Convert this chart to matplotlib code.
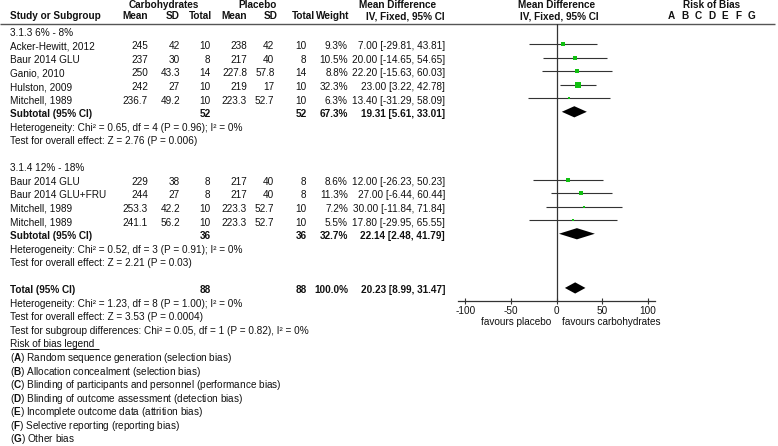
import matplotlib
matplotlib.use("Agg")
import matplotlib.pyplot as plt

plt.rcParams['font.family'] = ['Liberation Sans', 'DejaVu Sans']
plt.rcParams['font.size'] = 7.2
plt.rcParams['axes.unicode_minus'] = False
plt.rcParams['mathtext.fontset'] = 'custom'
plt.rcParams['mathtext.rm'] = 'Liberation Sans'
plt.rcParams['mathtext.bf'] = 'Liberation Sans:bold'

# subgroup 3.1.3 6% - 8%
names_1 = ["Acker-Hewitt, 2012", "Baur 2014 GLU", "Ganio, 2010", "Hulston, 2009", "Mitchell, 1989"]
carb_mean_1 = [245, 237, 250, 242, 236.7]
carb_sd_1 = [42, 30, 43.3, 27, 49.2]
carb_n_1 = [10, 8, 14, 10, 10]
plac_mean_1 = [238, 217, 227.8, 219, 223.3]
plac_sd_1 = [42, 40, 57.8, 17, 52.7]
plac_n_1 = [10, 8, 14, 10, 10]
weight_1 = [9.3, 10.5, 8.8, 32.3, 6.3]
md_1 = [7.00, 20.00, 22.20, 23.00, 13.40]
lo_1 = [-29.81, -14.65, -15.63, 3.22, -31.29]
hi_1 = [43.81, 54.65, 60.03, 42.78, 58.09]
sub_1 = [52, 52, 67.3, 19.31, 5.61, 33.01]
het_1 = "Heterogeneity: Chi² = 0.65, df = 4 (P = 0.96); I² = 0%"
eff_1 = "Test for overall effect: Z = 2.76 (P = 0.006)"

# subgroup 3.1.4 12% - 18%
names_2 = ["Baur 2014 GLU", "Baur 2014 GLU+FRU", "Mitchell, 1989", "Mitchell, 1989"]
carb_mean_2 = [229, 244, 253.3, 241.1]
carb_sd_2 = [38, 27, 42.2, 56.2]
carb_n_2 = [8, 8, 10, 10]
plac_mean_2 = [217, 217, 223.3, 223.3]
plac_sd_2 = [40, 40, 52.7, 52.7]
plac_n_2 = [8, 8, 10, 10]
weight_2 = [8.6, 11.3, 7.2, 5.5]
md_2 = [12.00, 27.00, 30.00, 17.80]
lo_2 = [-26.23, -6.44, -11.84, -29.95]
hi_2 = [50.23, 60.44, 71.84, 65.55]
sub_2 = [36, 36, 32.7, 22.14, 2.48, 41.79]
het_2 = "Heterogeneity: Chi² = 0.52, df = 3 (P = 0.91); I² = 0%"
eff_2 = "Test for overall effect: Z = 2.21 (P = 0.03)"

total = [88, 88, 100.0, 20.23, 8.99, 31.47]
total_notes = ["Heterogeneity: Chi² = 1.23, df = 8 (P = 1.00); I² = 0%",
               "Test for overall effect: Z = 3.53 (P = 0.0004)",
               "Test for subgroup differences: Chi² = 0.05, df = 1 (P = 0.82), I² = 0%"]

bias_letters = ["A", "B", "C", "D", "E", "F", "G"]
bias_names = ["Random sequence generation (selection bias)",
              "Allocation concealment (selection bias)",
              "Blinding of participants and personnel (performance bias)",
              "Blinding of outcome assessment (detection bias)",
              "Incomplete outcome data (attrition bias)",
              "Selective reporting (reporting bias)",
              "Other bias"]
ticks = [-100, -50, 0, 50, 100]

TXT = '#111111'
LINE = '#333333'
GREEN = '#11c011'

W, H = 778, 446
fig = plt.figure(figsize=(W / 100, H / 100), dpi=100)
ax = fig.add_axes([0, 0, 1, 1])
ax.set_xlim(0, W)
ax.set_ylim(H, 0)
ax.axis('off')

# forest panel: 0 at x=556.7px, 100 units = 91.3px, from header rule (24px) to axis (301px)
fx0, fhalf = 556.7, 110.0
ftop, fbot = 24.0, 301.0
scale = 100 / 91.3
fa = fig.add_axes([(fx0 - fhalf) / W, 1 - fbot / H, 2 * fhalf / W, (fbot - ftop) / H])
fa.set_xlim(-fhalf * scale, fhalf * scale)
fa.set_ylim(fbot, ftop)
fa.patch.set_visible(False)
for s in ['top', 'left', 'right']:
    fa.spines[s].set_visible(False)
fa.spines['bottom'].set_bounds(-108, 108)
fa.spines['bottom'].set_color(LINE)
fa.spines['bottom'].set_linewidth(0.9)
fa.set_yticks([])
fa.set_xticks(ticks)
fa.set_xticklabels([str(t) for t in ticks])
fa.tick_params(axis='x', direction='inout', length=5, width=0.8, color=LINE, pad=1.2,
               labelsize=7.2, labelcolor=TXT)
fa.axvline(0, color=LINE, lw=0.9)


def row(i):
    # text baseline of table row i
    return 35.8 + 13.55 * i


def fmt(v):
    return "{:g}".format(v)


head_cols = [148, 180, 212, 247, 278, 315, 349]
cols = [148, 180, 210.5, 247, 274.5, 306.5, 348]
ci_x = 445
MARK = 5.3   # marks sit this far above the text baseline


def txt(x, y, s, ha='left', bold=False):
    ax.text(x, y, s, ha=ha, va='baseline', color=TXT, fontweight='bold' if bold else 'normal')


# headers
y1, y2 = 8.4, 19.4
txt(164, y1, "Carbohydrates", 'center', True)
txt(258, y1, "Placebo", 'center', True)
txt(398, y1, "Mean Difference", 'center', True)
txt(557, y1, "Mean Difference", 'center', True)
txt(712, y1, "Risk of Bias", 'center', True)
txt(10, y2, "Study or Subgroup", bold=True)
for x, s in zip(head_cols, ["Mean", "SD", "Total", "Mean", "SD", "Total", "Weight"]):
    txt(x, y2, s, 'right', True)
txt(ci_x, y2, "IV, Fixed, 95% CI", 'right', True)
txt(559, y2, "IV, Fixed, 95% CI", 'center', True)
for k, l in enumerate(bias_letters):
    txt(671.7 + 13.35 * k, y2, l, 'center', True)
ax.hlines(24, 0, 775, color='#555555', lw=1.0)


def draw_summary(y, label, s):
    txt(10, y, label, bold=True)
    txt(cols[2], y, str(s[0]), 'right', True)
    txt(cols[5], y, str(s[1]), 'right', True)
    txt(cols[6], y, "{:.1f}%".format(s[2]), 'right', True)
    txt(ci_x, y, "{:.2f} [{:.2f}, {:.2f}]".format(s[3], s[4], s[5]), 'right', True)
    h = 5.6
    ym = y - MARK
    fa.fill([s[4], s[3], s[5], s[3]], [ym, ym - h, ym, ym + h], color='black', lw=0)


def draw_group(start, label, names, cm, cs, cn, pm, ps, pn, wt, md, lo, hi, sub, het, eff):
    txt(10, row(start), label)
    for j in range(len(names)):
        y = row(start + 1 + j)
        vals = [fmt(cm[j]), fmt(cs[j]), str(cn[j]), fmt(pm[j]), fmt(ps[j]), str(pn[j]),
                "{:.1f}%".format(wt[j])]
        txt(10, y, names[j])
        for x, s in zip(cols, vals):
            txt(x, y, s, 'right')
        txt(ci_x, y, "{:.2f} [{:.2f}, {:.2f}]".format(md[j], lo[j], hi[j]), 'right')
        fa.hlines(y - MARK, lo[j], hi[j], color=LINE, lw=0.8)
        fa.plot(md[j], y - MARK, 's', color=GREEN, ms=4.4 * (wt[j] / 32.3) ** 0.5, mew=0)
    k = start + 1 + len(names)
    draw_summary(row(k), "Subtotal (95% CI)", sub)
    txt(10, row(k + 1), het)
    txt(10, row(k + 2), eff)


draw_group(0, "3.1.3 6% - 8%", names_1, carb_mean_1, carb_sd_1, carb_n_1, plac_mean_1,
           plac_sd_1, plac_n_1, weight_1, md_1, lo_1, hi_1, sub_1, het_1, eff_1)
draw_group(10, "3.1.4 12% - 18%", names_2, carb_mean_2, carb_sd_2, carb_n_2, plac_mean_2,
           plac_sd_2, plac_n_2, weight_2, md_2, lo_2, hi_2, sub_2, het_2, eff_2)

draw_summary(row(19), "Total (95% CI)", total)
for k, s in enumerate(total_notes):
    txt(10, row(20 + k), s)

# favours labels under the axis
fa.text(-6, 325.5, "favours placebo", ha='right', va='baseline', color=TXT, clip_on=False)
fa.text(5.5, 325.5, "favours carbohydrates", ha='left', va='baseline', color=TXT, clip_on=False)

# risk of bias legend
txt(10, row(23), "Risk of bias legend ")
ax.hlines(row(23) + 1.6, 10, 99, color=TXT, lw=0.7)
for k, (l, s) in enumerate(zip(bias_letters, bias_names)):
    txt(10, row(24 + k), "($\\mathbf{" + l + "}$) " + s)

fig.savefig("out.png", dpi=100)
